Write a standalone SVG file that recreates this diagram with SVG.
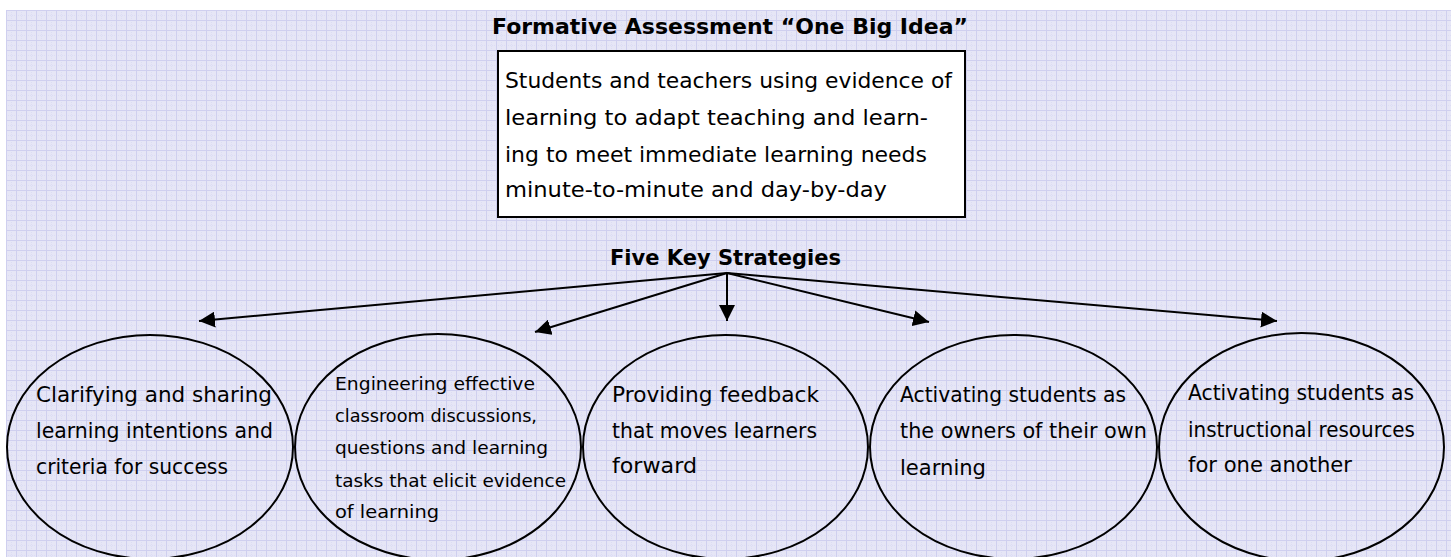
<svg xmlns="http://www.w3.org/2000/svg" width="1451" height="557" viewBox="0 0 1451 557">
  <defs>
    <!-- graph-paper backdrop -->
    <pattern id="grid" x="6" y="10" width="10" height="10" patternUnits="userSpaceOnUse">
      <rect width="10" height="10" fill="#e6e6f6"/>
      <path d="M0,5.5 H10 M5.5,0 V10" stroke="#dcdcf4" stroke-width="1" stroke-dasharray="1,1"/>
      <path d="M0,0.5 H10 M0.5,0 V10" stroke="#cfcfef" stroke-width="1"/>
    </pattern>
    <marker id="arrow" markerUnits="userSpaceOnUse" markerWidth="17" markerHeight="16" refX="16" refY="8" orient="auto">
      <path d="M0,0 L16,8 L0,16 Z" fill="#000"/>
    </marker>
    <style>
      .heading { font-family: "DejaVu Sans", "Liberation Sans", sans-serif; font-weight: bold; font-size: 21px; fill: #000; }
      .body { font-family: "DejaVu Sans", "Liberation Sans", sans-serif; font-size: 21.5px; fill: #000; }
      .small { font-family: "DejaVu Sans", "Liberation Sans", sans-serif; font-size: 18.5px; fill: #000; }
      .bubble { fill: none; stroke: #000; stroke-width: 2; }
      .link { stroke: #000; stroke-width: 2; fill: none; marker-end: url(#arrow); }
    </style>
  </defs>

  <rect width="1451" height="557" fill="#ffffff"/>
  <rect x="6" y="10" width="1445" height="547" fill="url(#grid)"/>

  <!-- big idea -->
  <g id="big-idea">
    <text class="heading" x="492" y="34" textLength="476" lengthAdjust="spacingAndGlyphs">Formative Assessment “One Big Idea”</text>
    <rect x="498" y="51" width="467" height="166" fill="#fff" stroke="#000" stroke-width="2"/>
    <text class="body" x="505" y="88" textLength="447" lengthAdjust="spacingAndGlyphs">Students and teachers using evidence of</text>
    <text class="body" x="505" y="125" textLength="423" lengthAdjust="spacingAndGlyphs">learning to adapt teaching and learn-</text>
    <text class="body" x="505" y="162" textLength="422" lengthAdjust="spacingAndGlyphs">ing to meet immediate learning needs</text>
    <text class="body" x="505" y="197" textLength="382" lengthAdjust="spacingAndGlyphs">minute-to-minute and day-by-day</text>
  </g>

  <g id="strategies-label">
    <text class="heading" x="610" y="265" textLength="231" lengthAdjust="spacingAndGlyphs">Five Key Strategies</text>
  </g>

  <!-- connectors from the label to each strategy -->
  <g id="connectors">
    <line class="link" x1="727" y1="273" x2="199" y2="321"/>
    <line class="link" x1="727" y1="273" x2="535" y2="332"/>
    <line class="link" x1="727" y1="273" x2="727" y2="321"/>
    <line class="link" x1="727" y1="273" x2="929" y2="322"/>
    <line class="link" x1="727" y1="273" x2="1277" y2="321"/>
  </g>

  <g id="strategy-1">
    <ellipse class="bubble" cx="150" cy="447" rx="143" ry="112"/>
    <text class="body" x="36" y="402" textLength="236" lengthAdjust="spacingAndGlyphs">Clarifying and sharing</text>
    <text class="body" x="36" y="438" textLength="237" lengthAdjust="spacingAndGlyphs">learning intentions and</text>
    <text class="body" x="36" y="474" textLength="192" lengthAdjust="spacingAndGlyphs">criteria for success</text>
  </g>

  <g id="strategy-2">
    <ellipse class="bubble" cx="438" cy="447" rx="143" ry="113"/>
    <text class="small" x="335" y="390" textLength="200" lengthAdjust="spacingAndGlyphs">Engineering effective</text>
    <text class="small" x="335" y="422" textLength="202" lengthAdjust="spacingAndGlyphs">classroom discussions,</text>
    <text class="small" x="335" y="454" textLength="213" lengthAdjust="spacingAndGlyphs">questions and learning</text>
    <text class="small" x="335" y="487" textLength="231" lengthAdjust="spacingAndGlyphs">tasks that elicit evidence</text>
    <text class="small" x="335" y="518" textLength="104" lengthAdjust="spacingAndGlyphs">of learning</text>
  </g>

  <g id="strategy-3">
    <ellipse class="bubble" cx="725.5" cy="447" rx="142.5" ry="112"/>
    <text class="body" x="612" y="402" textLength="207" lengthAdjust="spacingAndGlyphs">Providing feedback</text>
    <text class="body" x="612" y="438" textLength="205" lengthAdjust="spacingAndGlyphs">that moves learners</text>
    <text class="body" x="612" y="473" textLength="85" lengthAdjust="spacingAndGlyphs">forward</text>
  </g>

  <g id="strategy-4">
    <ellipse class="bubble" cx="1013.5" cy="447" rx="143.5" ry="112"/>
    <text class="body" x="900" y="402" textLength="226" lengthAdjust="spacingAndGlyphs">Activating students as</text>
    <text class="body" x="900" y="438" textLength="247" lengthAdjust="spacingAndGlyphs">the owners of their own</text>
    <text class="body" x="900" y="475" textLength="86" lengthAdjust="spacingAndGlyphs">learning</text>
  </g>

  <g id="strategy-5">
    <ellipse class="bubble" cx="1301.5" cy="447" rx="142.5" ry="114"/>
    <text class="body" x="1188" y="400" textLength="226" lengthAdjust="spacingAndGlyphs">Activating students as</text>
    <text class="body" x="1188" y="437" textLength="227" lengthAdjust="spacingAndGlyphs">instructional resources</text>
    <text class="body" x="1188" y="472" textLength="164" lengthAdjust="spacingAndGlyphs">for one another</text>
  </g>
</svg>
